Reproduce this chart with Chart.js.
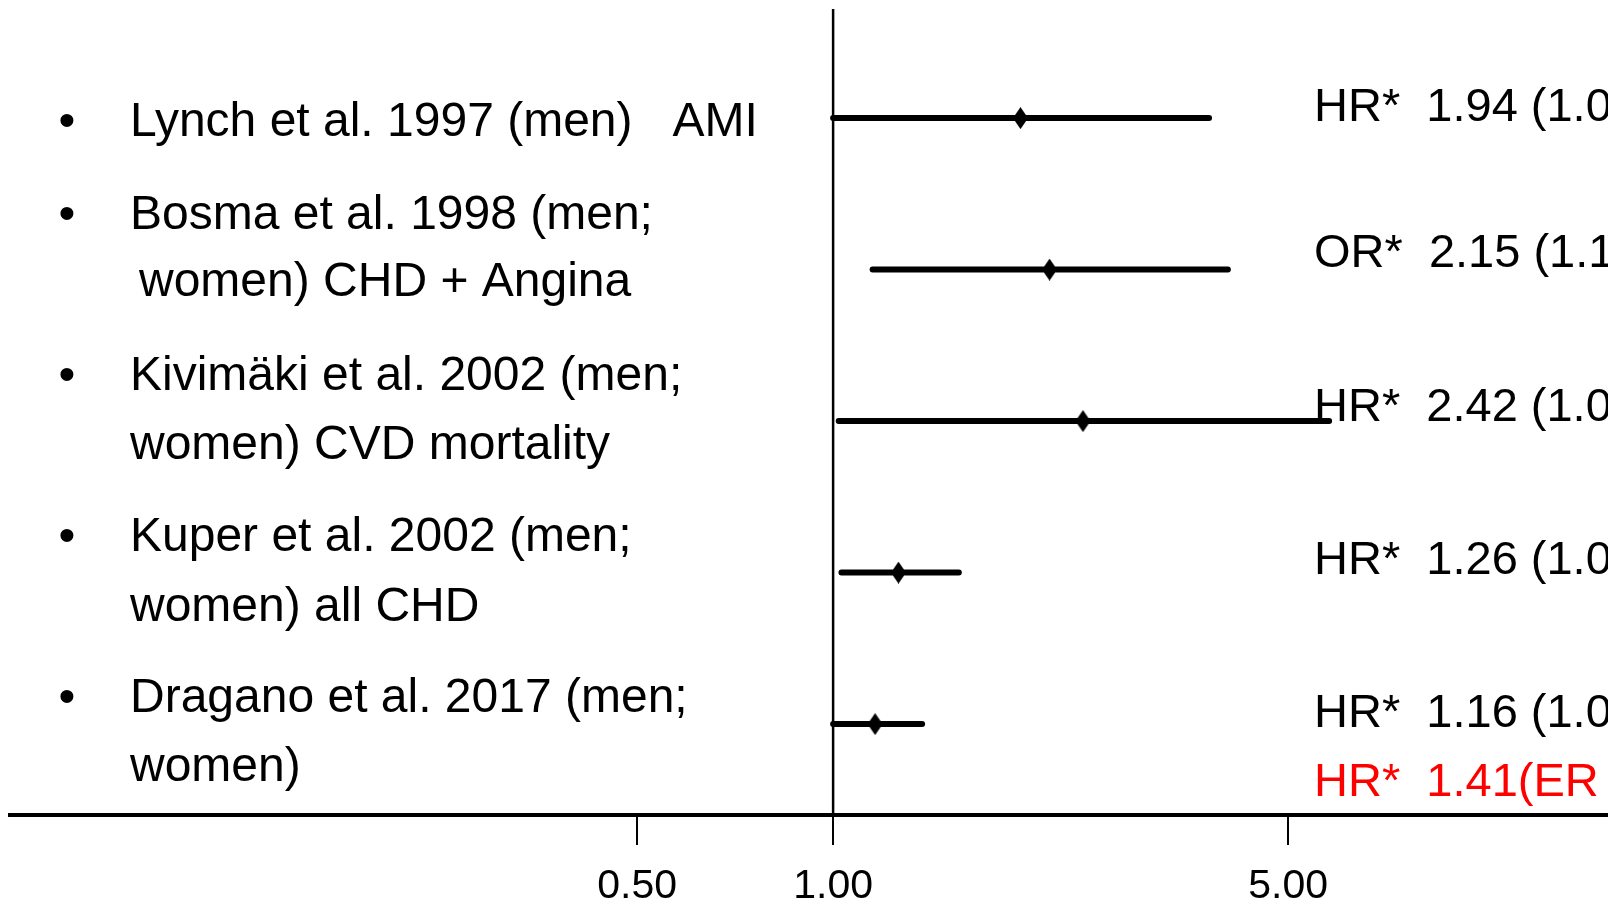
<!DOCTYPE html>
<html>
<head>
<meta charset="utf-8">
<script src="https://cdn.jsdelivr.net/npm/chart.js@4.4.1/dist/chart.umd.min.js"></script>
<style>
  html, body { margin: 0; padding: 0; background: #fff; overflow: hidden; }
  canvas { display: block; }
</style>
</head>
<body>
<canvas id="forestChart" width="1608" height="903"></canvas>
<script>
// --- data ---
const studyLines = [
    ["Lynch et al. 1997 (men)   AMI"],
    ["Bosma et al. 1998 (men;", "women) CHD + Angina"],
    ["Kivimäki et al. 2002 (men;", "women) CVD mortality"],
    ["Kuper et al. 2002 (men;", "women) all CHD"],
    ["Dragano et al. 2017 (men;", "women)"]
];
const hrValues = [1.94, 2.15, 2.42, 1.26, 1.16];
const ciLower  = [1.00, 1.15, 1.02, 1.03, 1.00];
const ciUpper  = [3.78, 4.04, 5.78, 1.56, 1.37];
const resultLabels = ["HR*  1.94 (1.0", "OR*  2.15 (1.1", "HR*  2.42 (1.0", "HR*  1.26 (1.0", "HR*  1.16 (1.0"];
const extraLabel = "HR*  1.41(ER";
const xTicks = [0.5, 1, 5];

// --- layout (pixel offsets of text lines from each row) ---
const FONT = '"Liberation Sans", Arial, sans-serif';
const labelOffsets = [[5], [-54, 13], [-44, 25], [-35, 35], [-25, 44]];
const resultOffsets = [-10, -16, -13, -12, -10];
const extraOffset = 59;

// elongated diamond used as the point marker
function makeDiamond() {
    const c = document.createElement('canvas');
    c.width = 13;
    c.height = 22;
    const g = c.getContext('2d');
    g.fillStyle = '#000';
    g.beginPath();
    g.moveTo(6.5, 0);
    g.lineTo(12, 8);
    g.lineTo(12, 14);
    g.lineTo(6.5, 22);
    g.lineTo(1, 14);
    g.lineTo(1, 8);
    g.closePath();
    g.fill();
    return c;
}

// CI whiskers, one line per study
const datasets = hrValues.map((hr, i) => ({
    data: [{ x: ciLower[i], y: i }, { x: ciUpper[i], y: i }],
    showLine: true,
    borderColor: '#000',
    borderWidth: 6,
    borderCapStyle: 'round',
    pointRadius: 0
}));
// point estimates
datasets.push({
    data: hrValues.map((hr, i) => ({ x: hr, y: i })),
    pointStyle: makeDiamond(),
    pointRadius: 10,
    backgroundColor: '#000'
});

// vertical line at 1.00
const refLine = {
    id: 'refLine',
    beforeDatasetsDraw(chart) {
        const { ctx, chartArea, scales: { x } } = chart;
        const px = x.getPixelForValue(1);
        ctx.save();
        ctx.strokeStyle = '#000';
        ctx.lineWidth = 2.5;
        ctx.beginPath();
        ctx.moveTo(px, chartArea.top);
        ctx.lineTo(px, chartArea.bottom);
        ctx.stroke();
        ctx.restore();
    }
};

// study names on the left, estimates on the right
const studyText = {
    id: 'studyText',
    afterDraw(chart) {
        const { ctx, scales: { y } } = chart;
        ctx.save();
        ctx.font = '48px ' + FONT;
        ctx.textBaseline = 'middle';
        ctx.fillStyle = '#000';
        studyLines.forEach((lines, i) => {
            const rowY = y.getPixelForValue(i);
            lines.forEach((t, j) => {
                const py = rowY + labelOffsets[i][j];
                if (j === 0) {
                    ctx.textAlign = 'center';
                    ctx.fillText('•', 67, py);
                }
                ctx.textAlign = 'left';
                ctx.fillText(t, (i === 1 && j === 1) ? 139 : 130, py);
            });
        });
        ctx.font = '47px ' + FONT;
        resultLabels.forEach((t, i) => {
            ctx.fillText(t, 1314, y.getPixelForValue(i) + resultOffsets[i]);
        });
        ctx.fillStyle = '#ff0000';
        ctx.fillText(extraLabel, 1314, y.getPixelForValue(hrValues.length - 1) + extraOffset);
        ctx.restore();
    }
};

new Chart(document.getElementById('forestChart'), {
    type: 'scatter',
    data: { datasets },
    options: {
        responsive: false,
        animation: false,
        layout: { autoPadding: false, padding: { left: 10, right: 0, top: 9, bottom: -26 } },
        plugins: { legend: { display: false }, tooltip: { enabled: false } },
        scales: {
            x: {
                type: 'logarithmic',
                min: 0.0544,
                max: 15.5,
                afterBuildTicks: scale => { scale.ticks = xTicks.map(v => ({ value: v })); },
                ticks: {
                    callback: v => Number(v).toFixed(2),
                    color: '#000',
                    font: { family: FONT, size: 41, lineHeight: 1 },
                    padding: 21.5,
                    autoSkip: false,
                    maxRotation: 0
                },
                grid: { display: true, drawOnChartArea: false, drawTicks: true, tickLength: 30, color: '#000', lineWidth: 2 },
                border: { display: true, color: '#000', width: 4 }
            },
            y: {
                type: 'linear',
                min: -0.72,
                max: 4.6,
                reverse: true,
                display: false
            }
        }
    },
    plugins: [refLine, studyText]
});
</script>
</body>
</html>
